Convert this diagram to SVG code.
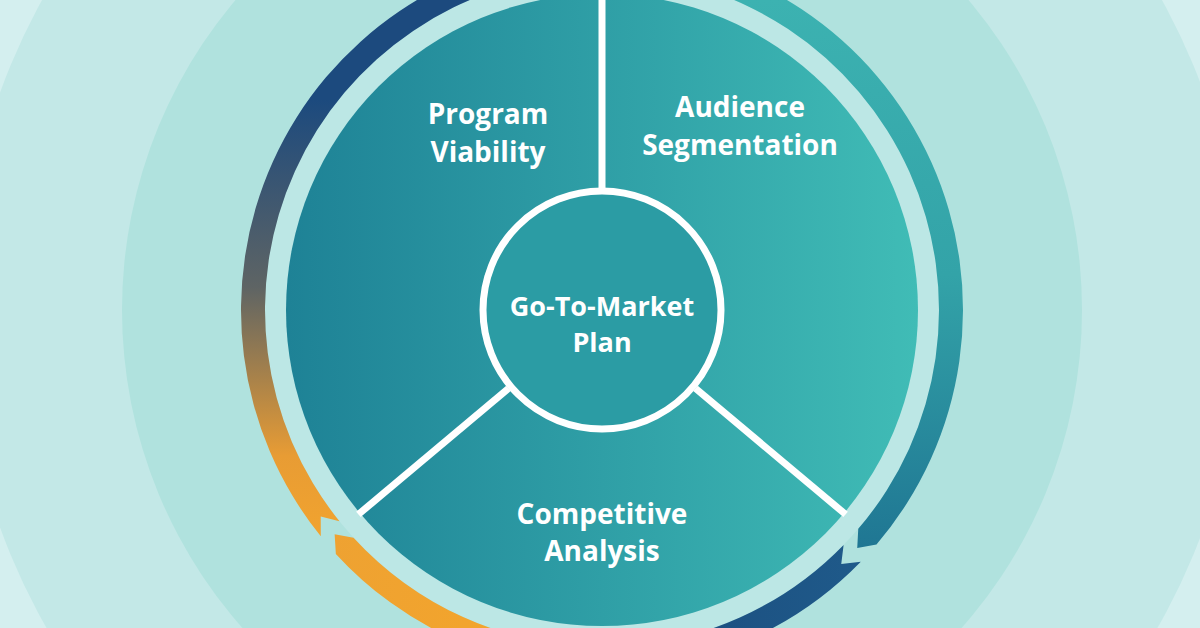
<svg xmlns="http://www.w3.org/2000/svg" width="1200" height="628" viewBox="0 0 1200 628">
<defs>
<linearGradient id="pie" gradientUnits="userSpaceOnUse" x1="287" y1="0" x2="918" y2="0"><stop offset="0" stop-color="#1e8296"/><stop offset="1" stop-color="#40bcb6"/></linearGradient>
<linearGradient id="gLeft" gradientUnits="userSpaceOnUse" x1="0" y1="100" x2="0" y2="545"><stop offset="0" stop-color="#1c4a7e"/><stop offset="0.42" stop-color="#5e6464"/><stop offset="0.8" stop-color="#e89c34"/><stop offset="1" stop-color="#f2a42e"/></linearGradient>
<linearGradient id="gTeal" gradientUnits="userSpaceOnUse" x1="0" y1="0" x2="0" y2="550"><stop offset="0" stop-color="#3cb2b1"/><stop offset="0.5" stop-color="#33a3a8"/><stop offset="1" stop-color="#1f7693"/></linearGradient>
<linearGradient id="gNavy" gradientUnits="userSpaceOnUse" x1="860" y1="0" x2="600" y2="0"><stop offset="0" stop-color="#1f5a8a"/><stop offset="1" stop-color="#1a4a7c"/></linearGradient>
<linearGradient id="gOrange" gradientUnits="userSpaceOnUse" x1="330" y1="0" x2="600" y2="0"><stop offset="0" stop-color="#eea232"/><stop offset="1" stop-color="#f6a628"/></linearGradient>
</defs>
<style>
.lbl{font-family:"Open Sans","Liberation Sans",sans-serif;font-weight:700;fill:#ffffff;text-anchor:middle}
.div{stroke:#ffffff;stroke-width:7;fill:none}
</style>
<g id="background">
<rect width="1200" height="628" fill="#d4efef"/>
<circle cx="602" cy="310" r="640" fill="#c3e8e7"/>
<circle cx="602" cy="310" r="480" fill="#b0e2de"/>
<circle cx="602" cy="310" r="337" fill="#bce7e5"/>
</g>
<g id="cycle-arcs">
<path fill="url(#gTeal)" d="M609.56,-50.92 A361,361 0 0 1 876.51,544.45 L857.24,548.02 L858.26,528.86 A337,337 0 0 0 609.06,-26.93 L624.52,-38.27 Z"/>
<path fill="url(#gNavy)" d="M860.80,561.68 A361,361 0 0 1 617.75,670.66 L602,659 L616.70,646.68 A337,337 0 0 0 843.60,544.95 L841.26,564.08 Z"/>
<path fill="url(#gOrange)" d="M594.44,670.92 A361,361 0 0 1 335.84,553.89 L334.65,534.33 L353.54,537.67 A337,337 0 0 0 594.94,646.93 L579.48,658.27 Z"/>
<path fill="url(#gLeft)" d="M320.79,536.37 A361,361 0 0 1 586.25,-50.66 L602,-39 L587.30,-26.68 A337,337 0 0 0 339.49,521.32 L320.73,516.61 Z"/>
</g>
<g id="pie">
<circle cx="602" cy="310" r="316" fill="url(#pie)"/>
</g>
<g id="connectors">
<line class="div" x1="602" y1="-10" x2="602" y2="188"/>
<line class="div" x1="508.5" y1="388.4" x2="358.4" y2="514.4"/>
<line class="div" x1="695.5" y1="388.4" x2="845.6" y2="514.4"/>
</g>
<g id="program-viability">
<text class="lbl" font-size="28" x="488" y="124">Program</text>
<text class="lbl" font-size="28" x="488" y="162">Viability</text>
</g>
<g id="audience-segmentation">
<text class="lbl" font-size="28" x="740" y="117">Audience</text>
<text class="lbl" font-size="28" x="740" y="155">Segmentation</text>
</g>
<g id="competitive-analysis">
<text class="lbl" font-size="28" x="602" y="524">Competitive</text>
<text class="lbl" font-size="28" x="602" y="561">Analysis</text>
</g>
<g id="go-to-market">
<circle cx="602" cy="310" r="119" fill="#2b9ca4" stroke="#ffffff" stroke-width="7"/>
<text class="lbl" font-size="27" x="602" y="316">Go-To-Market</text>
<text class="lbl" font-size="27" x="602" y="352">Plan</text>
</g>
</svg>
